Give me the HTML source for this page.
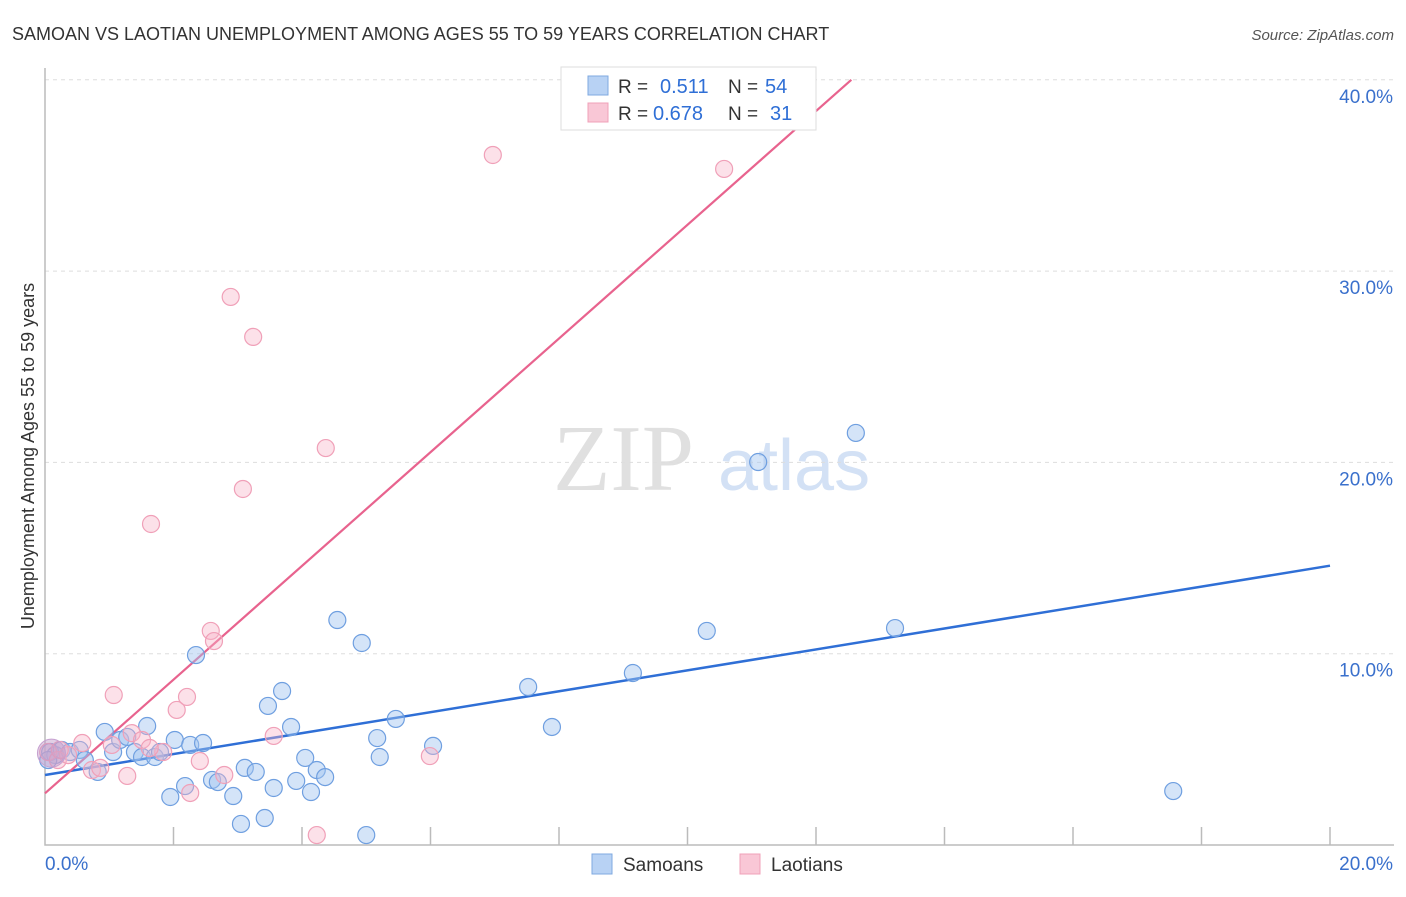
<!DOCTYPE html>
<html><head><meta charset="utf-8"><style>
body{margin:0;background:#fff;font-family:"Liberation Sans",sans-serif}
svg text{font-family:"Liberation Sans",sans-serif}
</style></head><body>
<svg id="chart" width="1406" height="892">
<text x="12" y="40" font-size="18" fill="#333">SAMOAN VS LAOTIAN UNEMPLOYMENT AMONG AGES 55 TO 59 YEARS CORRELATION CHART</text>
<text x="1394" y="40" font-size="15" fill="#555" text-anchor="end" font-style="italic">Source: ZipAtlas.com</text>
<text x="34" y="456" font-size="18" fill="#333" text-anchor="middle" transform="rotate(-90 34 456)">Unemployment Among Ages 55 to 59 years</text>
<g>
<text x="553" y="490" font-size="94" fill="#e0e0e0" font-family="Liberation Serif" style="font-family:'Liberation Serif',serif">ZIP</text>
<text x="718" y="490" font-size="72" fill="#d3e1f5">atlas</text>
</g>
<g id="grid"></g><g id="axes"></g><g id="lines"></g><g id="points"></g>
<g>
<rect x="561" y="67" width="255" height="63" fill="#fff" stroke="#ddd"/>
<rect x="588" y="76" width="20" height="19" fill="#b8d2f4" stroke="#7fa9e0"/>
<text x="618" y="93" font-size="19" fill="#333">R = </text><text x="660" y="93" font-size="20" fill="#2f6fd6">0.511</text>
<text x="728" y="93" font-size="19" fill="#333">N = </text><text x="765" y="93" font-size="20" fill="#2f6fd6">54</text>
<rect x="588" y="103" width="20" height="19" fill="#f9c7d6" stroke="#f0a0b8"/>
<text x="618" y="120" font-size="19" fill="#333">R = </text><text x="653" y="120" font-size="20" fill="#2f6fd6">0.678</text>
<text x="728" y="120" font-size="19" fill="#333">N = </text><text x="770" y="120" font-size="20" fill="#2f6fd6">31</text>
</g>
<g>
<rect x="592" y="854" width="20" height="20" fill="#b8d2f4" stroke="#7fa9e0"/>
<text x="623" y="871" font-size="19" fill="#333">Samoans</text>
<rect x="740" y="854" width="20" height="20" fill="#f9c7d6" stroke="#f0a0b8"/>
<text x="771" y="871" font-size="19" fill="#333">Laotians</text>
</g>
</svg>
<script>
const yTicks=[10,20,30,40];
const xTickLabels=["0.0%","20.0%"];
const samoanX=[0.08,0.16,0.26,0.39,0.54,0.62,0.82,0.93,1.06,1.17,1.28,1.40,1.51,1.59,1.71,1.79,1.95,2.02,2.18,2.26,2.35,2.46,2.60,2.69,2.93,3.05,3.11,3.28,3.42,3.47,3.56,3.69,3.83,3.91,4.05,4.14,4.23,4.36,4.55,4.93,5.00,5.17,5.21,5.46,6.04,7.52,7.89,9.15,10.30,11.10,12.62,13.23,17.56,0.05];
const samoanY=[4.86,4.70,4.97,4.86,4.97,4.44,3.82,5.91,4.86,5.49,5.65,4.86,4.60,6.22,4.60,4.86,2.51,5.49,3.08,5.23,9.93,5.33,3.40,3.29,2.56,1.10,4.03,3.82,1.41,7.27,2.98,8.05,6.17,3.35,4.55,2.77,3.92,3.55,11.76,10.56,0.52,5.59,4.60,6.59,5.18,8.26,6.17,8.99,11.19,20.02,21.54,11.34,2.82,4.44];
const laotianX=[0.05,0.20,0.36,0.58,0.73,0.86,1.07,1.28,1.35,1.51,1.65,1.84,2.05,2.21,2.26,2.41,2.58,2.63,2.79,2.89,3.08,3.24,3.56,4.23,4.37,5.99,6.97,10.57,1.04,1.63,0.23];
const laotianY=[4.86,4.44,4.70,5.33,3.92,4.03,7.84,3.61,5.85,5.49,16.78,4.86,7.06,7.74,2.72,4.39,11.19,10.66,3.66,28.65,18.61,26.56,5.70,0.52,20.75,4.65,36.07,35.34,5.23,5.07,4.97];
const samoanFit=[3.66,14.6];
const laotianFit=[2.7,40];
const laotianFitEndX=12.55;
const NS="http://www.w3.org/2000/svg";
const X=v=>45+v*64.25, Y=v=>845-v*19.13;
function mk(p,t,a){const e=document.createElementNS(NS,t);for(const k in a)e.setAttribute(k,a[k]);document.getElementById(p).appendChild(e);return e;}
yTicks.forEach(t=>{
 const g=mk('grid','line',{x1:45,x2:1394,y1:Y(t),y2:Y(t),stroke:'#ddd','stroke-dasharray':'4 4'});
 
 
 const l=mk('grid','text',{x:1393,y:Y(t)+23,'font-size':19,fill:'#3a70cc','text-anchor':'end'});
 l.textContent=t.toFixed(1)+'%';
 
 
});
const ax=mk('axes','path',{d:'M45 68V845H1394',fill:'none',stroke:'#bbb','stroke-width':1.5});


for(let i=1;i<=10;i++){const t=mk('axes','line',{x1:X(i*2),x2:X(i*2),y1:827,y2:845,stroke:'#bbb','stroke-width':1.5});
 
 }
const xl0=mk('axes','text',{x:45,y:870,'font-size':19,fill:'#3a70cc'});xl0.textContent=xTickLabels[0];


const xl1=mk('axes','text',{x:1393,y:870,'font-size':19,fill:'#3a70cc','text-anchor':'end'});xl1.textContent=xTickLabels[1];


samoanX.forEach((x,i)=>{const c=mk('points','circle',{cx:X(x),cy:Y(samoanY[i]),r:8.5,fill:'rgba(160,196,240,0.45)',stroke:'#6f9fe0','stroke-width':1.2});
 
 });
laotianX.forEach((x,i)=>{const c=mk('points','circle',{cx:X(x),cy:Y(laotianY[i]),r:8.5,fill:'rgba(248,180,200,0.4)',stroke:'#f0a0b8','stroke-width':1.2});
 
 });
const big=mk('points','circle',{cx:X(0.1),cy:Y(4.8),r:14,fill:'rgba(190,150,200,0.45)',stroke:'#c6a0d0'});


const l1=mk('lines','line',{x1:X(0),y1:Y(samoanFit[0]),x2:X(20),y2:Y(samoanFit[1]),stroke:'#2f6fd6','stroke-width':2.5});


const l2=mk('lines','line',{x1:X(0),y1:Y(laotianFit[0]),x2:X(laotianFitEndX),y2:Y(laotianFit[1]),stroke:'#e8638e','stroke-width':2.2});


</script>
</body></html>
